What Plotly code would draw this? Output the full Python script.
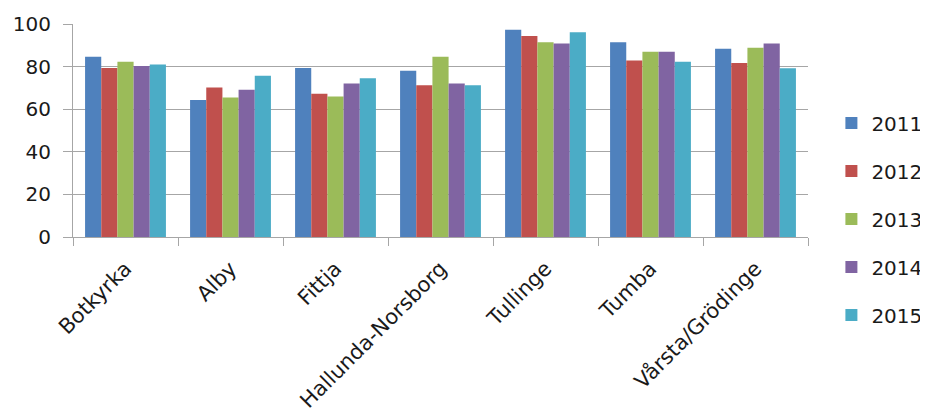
import plotly.graph_objects as go

categories = ["Botkyrka", "Alby", "Fittja", "Hallunda-Norsborg", "Tullinge", "Tumba", "Vårsta/Grödinge"]
years = ["2011", "2012", "2013", "2014", "2015"]
v2011 = [84.6, 64.3, 79.3, 78.1, 97.3, 91.4, 88.4]
v2012 = [79.3, 70.2, 67.2, 71.3, 94.4, 82.9, 81.7]
v2013 = [82.3, 65.5, 66.0, 84.6, 91.4, 87.0, 88.9]
v2014 = [80.3, 69.1, 72.1, 72.1, 90.9, 87.0, 90.9]
v2015 = [81.0, 75.7, 74.5, 71.3, 96.1, 82.3, 79.2]
series = [v2011, v2012, v2013, v2014, v2015]
colors = ["#4F81BD", "#C0504D", "#9BBB59", "#8064A2", "#4BACC6"]

fig = go.Figure()
for name, vals, c in zip(years, series, colors):
    fig.add_trace(go.Bar(x=categories, y=vals, name=name, marker_color=c,
                         marker_line_width=0, legendgroup=name))

font = "'DejaVu Sans', sans-serif"
fig.update_layout(
    width=920, height=406,
    margin=dict(l=65, r=120, t=16, b=177, autoexpand=False),
    paper_bgcolor="white", plot_bgcolor="white",
    barmode="group", bargap=0.23, bargroupgap=0,
    font=dict(family=font, size=20, color="#1a1a1a"),
    legend=dict(xref="container", yref="container", x=0.895, y=0.48,
                xanchor="left", yanchor="middle", maxheight=400,
                bgcolor="rgba(0,0,0,0)", borderwidth=0,
                font=dict(size=20), tracegroupgap=19, itemwidth=30),
    showlegend=True,
)
fig.update_yaxes(range=[0, 100], dtick=20, showgrid=True, gridcolor="#A6A6A6",
                 gridwidth=1, showline=True, linecolor="#A6A6A6", ticks="outside",
                 ticklen=9, tickcolor="#A6A6A6", zeroline=False, automargin=False,
                 tickfont=dict(size=20), ticklabelstandoff=8)
fig.update_xaxes(showline=True, linecolor="#A6A6A6", ticks="outside", ticklen=8,
                 tickcolor="#A6A6A6", tickson="boundaries", tickangle=-45,
                 automargin=False, tickfont=dict(size=21), ticklabelstandoff=10)
fig.write_html("out.html")
